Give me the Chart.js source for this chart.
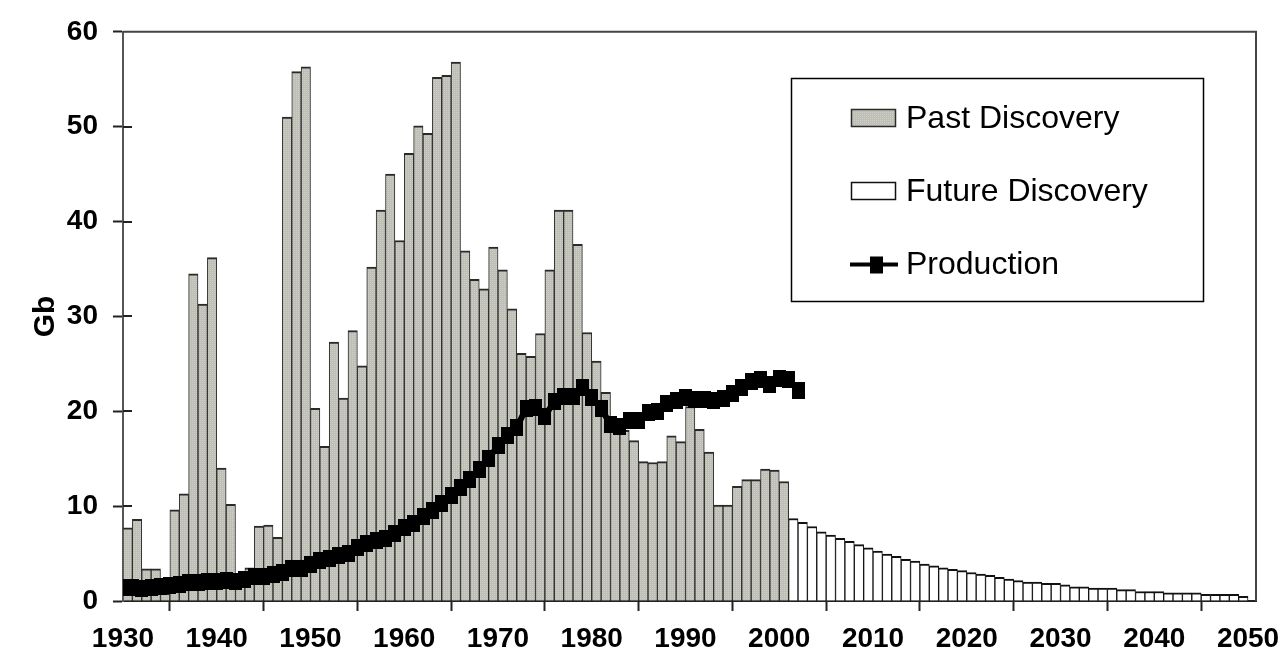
<!DOCTYPE html>
<html>
<head>
<meta charset="utf-8">
<title>Oil discovery and production</title>
<script src="https://cdn.jsdelivr.net/npm/chart.js@4.4.1/dist/chart.umd.min.js"></script>
<style>
  html, body { margin: 0; padding: 0; background: #fff; }
  #wrap { width: 1284px; height: 656px; }
</style>
</head>
<body>
<div id="wrap"><canvas id="myChart" width="1284" height="656"></canvas></div>
<script>
// years with past discovery (one bar per year)
const pastYears = [
    1930, 1931, 1932, 1933, 1934, 1935, 1936, 1937, 1938, 1939,
    1940, 1941, 1942, 1943, 1944, 1945, 1946, 1947, 1948, 1949,
    1950, 1951, 1952, 1953, 1954, 1955, 1956, 1957, 1958, 1959,
    1960, 1961, 1962, 1963, 1964, 1965, 1966, 1967, 1968, 1969,
    1970, 1971, 1972, 1973, 1974, 1975, 1976, 1977, 1978, 1979,
    1980, 1981, 1982, 1983, 1984, 1985, 1986, 1987, 1988, 1989,
    1990, 1991, 1992, 1993, 1994, 1995, 1996, 1997, 1998, 1999,
    2000
];
const pastDiscovery = [
    7.7, 8.6, 3.4, 3.4, 0.8, 9.6, 11.3, 34.5, 31.3, 36.2,
    14.0, 10.2, 2.0, 3.5, 7.9, 8.0, 6.7, 51.0, 55.8, 56.3,
    20.3, 16.3, 27.3, 21.4, 28.5, 24.8, 35.2, 41.2, 45.0, 38.0,
    47.2, 50.1, 49.3, 55.2, 55.4, 56.8, 36.9, 33.9, 32.9, 37.3,
    34.9, 30.8, 26.1, 25.8, 28.2, 34.9, 41.2, 41.2, 37.6, 28.3,
    25.3, 22.0, 19.0, 18.0, 16.9, 14.7, 14.6, 14.7, 17.4, 16.8,
    20.5, 18.1, 15.7, 10.1, 10.1, 12.1, 12.8, 12.8, 13.9, 13.8,
    12.6
];

const futureYears = [
    2001, 2002, 2003, 2004, 2005, 2006, 2007, 2008, 2009, 2010,
    2011, 2012, 2013, 2014, 2015, 2016, 2017, 2018, 2019, 2020,
    2021, 2022, 2023, 2024, 2025, 2026, 2027, 2028, 2029, 2030,
    2031, 2032, 2033, 2034, 2035, 2036, 2037, 2038, 2039, 2040,
    2041, 2042, 2043, 2044, 2045, 2046, 2047, 2048, 2049
];
const futureDiscovery = [
    8.7, 8.3, 7.85, 7.3, 6.95, 6.6, 6.3, 5.95, 5.6, 5.25,
    4.95, 4.7, 4.4, 4.2, 3.9, 3.7, 3.5, 3.35, 3.2, 3.0,
    2.85, 2.7, 2.5, 2.3, 2.15, 2.0, 2.0, 1.85, 1.85, 1.7,
    1.5, 1.5, 1.35, 1.35, 1.35, 1.2, 1.2, 1.0, 1.0, 1.0,
    0.85, 0.85, 0.85, 0.85, 0.7, 0.7, 0.7, 0.7, 0.5
];

const productionYears = [
    1930, 1931, 1932, 1933, 1934, 1935, 1936, 1937, 1938, 1939,
    1940, 1941, 1942, 1943, 1944, 1945, 1946, 1947, 1948, 1949,
    1950, 1951, 1952, 1953, 1954, 1955, 1956, 1957, 1958, 1959,
    1960, 1961, 1962, 1963, 1964, 1965, 1966, 1967, 1968, 1969,
    1970, 1971, 1972, 1973, 1974, 1975, 1976, 1977, 1978, 1979,
    1980, 1981, 1982, 1983, 1984, 1985, 1986, 1987, 1988, 1989,
    1990, 1991, 1992, 1993, 1994, 1995, 1996, 1997, 1998, 1999,
    2000, 2001, 2002
];
const production = [
    1.4, 1.4, 1.3, 1.4, 1.5, 1.6, 1.7, 2.0, 2.0, 2.1,
    2.1, 2.2, 2.1, 2.3, 2.6, 2.6, 2.8, 3.0, 3.4, 3.4,
    3.8, 4.3, 4.5, 4.8, 5.0, 5.6, 6.1, 6.4, 6.6, 7.1,
    7.7, 8.2, 8.9, 9.5, 10.3, 11.1, 12.0, 12.8, 13.9, 15.0,
    16.4, 17.4, 18.3, 20.3, 20.4, 19.5, 21.0, 21.6, 21.6, 22.5,
    21.5, 20.3, 18.6, 18.4, 19.0, 19.0, 19.9, 20.0, 20.8, 21.1,
    21.4, 21.2, 21.2, 21.1, 21.3, 21.9, 22.5, 23.1, 23.3, 22.8,
    23.5, 23.3, 22.2
];

const xTickLabels = [1930, 1940, 1950, 1960, 1970, 1980, 1990, 2000, 2010, 2020, 2030, 2040, 2050];
const yTickLabels = [0, 10, 20, 30, 40, 50, 60];

const FONT = "'Liberation Sans', Arial, sans-serif";

const canvas = document.getElementById('myChart');
const ctx = canvas.getContext('2d');

// grey stippled fill like the old spreadsheet bars
function makeStipple() {
    const c = document.createElement('canvas');
    c.width = 4;
    c.height = 4;
    const g = c.getContext('2d');
    g.fillStyle = '#bfbfb4';
    g.fillRect(0, 0, 4, 4);
    g.fillStyle = '#cacae2';
    g.fillRect(0, 0, 1, 1);
    g.fillRect(2, 2, 1, 1);
    g.fillStyle = '#d2d2bc';
    g.fillRect(2, 0, 1, 1);
    g.fillRect(0, 2, 1, 1);
    return ctx.createPattern(c, 'repeat');
}
const stipple = makeStipple();

// production marker: a slightly tall black block
const marker = document.createElement('canvas');
marker.width = 13;
marker.height = 17;
marker.getContext('2d').fillRect(0, 0, 13, 17);

// bars sit between year ticks, so centre them half a year right
const toBars = (years, values) => years.map((yr, i) => ({ x: yr + 0.5, y: values[i] }));

const frameAndLegend = {
    id: 'frameAndLegend',
    afterDraw(chart) {
        const c = chart.ctx;
        const area = chart.chartArea;
        const yScale = chart.scales.y;

        c.save();
        // top and right border of the plot
        c.strokeStyle = '#444';
        c.lineWidth = 2;
        c.beginPath();
        c.moveTo(area.left, area.top);
        c.lineTo(area.right, area.top);
        c.lineTo(area.right, area.bottom);
        c.stroke();

        // y tick marks also poke inside the plot
        c.strokeStyle = '#222';
        c.lineWidth = 2;
        yTickLabels.slice(1, -1).forEach(v => {
            const py = Math.round(yScale.getPixelForValue(v));
            c.beginPath();
            c.moveTo(area.left, py);
            c.lineTo(area.left + 9, py);
            c.stroke();
        });

        // legend box
        const box = { x: 791.5, y: 78.5, w: 412, h: 223 };
        c.fillStyle = '#fff';
        c.fillRect(box.x, box.y, box.w, box.h);
        c.strokeStyle = '#000';
        c.lineWidth = 1.5;
        c.strokeRect(box.x, box.y, box.w, box.h);

        const rows = [118, 191, 264.5];
        const sx = 851, sw = 45, sh = 18, tx = 906;
        c.font = '32px ' + FONT;
        c.textBaseline = 'middle';
        c.textAlign = 'left';

        chart.data.datasets.forEach((ds, i) => {
            const cy = rows[i];
            if (ds.type === 'line') {
                c.strokeStyle = '#000';
                c.lineWidth = 4;
                c.beginPath();
                c.moveTo(sx - 1, cy);
                c.lineTo(sx + sw + 2, cy);
                c.stroke();
                c.fillStyle = '#000';
                c.fillRect(sx + 19, cy - 8, 13, 17);
            } else {
                c.fillStyle = ds.backgroundColor;
                c.fillRect(sx, cy - sh / 2, sw, sh);
                c.strokeStyle = ds.borderColor;
                c.lineWidth = 1.5;
                c.strokeRect(sx + 0.5, cy - sh / 2 + 0.5, sw - 1, sh - 1);
            }
            c.fillStyle = '#000';
            c.fillText(ds.label, tx, cy + 1);
        });
        c.restore();
    }
};

const chart = new Chart(ctx, {
    data: {
        datasets: [
            {
                type: 'bar',
                label: 'Past Discovery',
                data: toBars(pastYears, pastDiscovery),
                backgroundColor: stipple,
                borderColor: '#2a2a2a',
                borderWidth: { top: 2, left: 1, right: 1, bottom: 0 },
                barPercentage: 1,
                categoryPercentage: 1,
                grouped: false,
                order: 2
            },
            {
                type: 'bar',
                label: 'Future Discovery',
                data: toBars(futureYears, futureDiscovery),
                backgroundColor: '#ffffff',
                borderColor: '#111',
                borderWidth: { top: 2, left: 1, right: 1, bottom: 0 },
                barPercentage: 1,
                categoryPercentage: 1,
                grouped: false,
                order: 2
            },
            {
                type: 'line',
                label: 'Production',
                data: productionYears.map((yr, i) => ({ x: yr, y: production[i] })),
                borderColor: '#000',
                backgroundColor: '#000',
                borderWidth: 6,
                tension: 0,
                pointStyle: marker,
                pointRadius: 6,
                pointHoverRadius: 6,
                order: 1
            }
        ]
    },
    options: {
        responsive: false,
        animation: false,
        events: [],
        layout: { padding: { top: 30, right: 28, left: 0, bottom: 0 } },
        plugins: {
            legend: { display: false },
            tooltip: { enabled: false }
        },
        scales: {
            x: {
                type: 'linear',
                min: 1930,
                max: 2050.85,
                offset: false,
                grid: {
                    drawOnChartArea: false,
                    drawTicks: true,
                    tickLength: 10,
                    tickWidth: 2,
                    tickColor: '#222'
                },
                border: { display: true, color: '#222', width: 2 },
                ticks: {
                    color: '#000',
                    font: { family: FONT, size: 28, weight: 'bold' },
                    padding: 11,
                    maxRotation: 0,
                    autoSkip: false,
                    callback: v => String(v)
                },
                afterBuildTicks: s => { s.ticks = xTickLabels.map(v => ({ value: v })); },
                afterFit: s => {
                    s.height = 55;
                    // the last label may hang into the right margin
                    s.paddingLeft = 0;
                    s.paddingRight = 0;
                }
            },
            y: {
                min: 0,
                max: 60,
                grid: {
                    drawOnChartArea: false,
                    drawTicks: true,
                    tickLength: 10,
                    tickWidth: 2,
                    tickColor: '#222'
                },
                border: { display: true, color: '#555', width: 2 },
                ticks: {
                    color: '#000',
                    font: { family: FONT, size: 28, weight: 'bold' },
                    padding: 15
                },
                afterBuildTicks: s => { s.ticks = yTickLabels.map(v => ({ value: v })); },
                afterFit: s => { s.width = 123; },
                title: {
                    display: true,
                    text: 'Gb',
                    color: '#000',
                    font: { family: FONT, size: 30, weight: 'bold' },
                    padding: { top: 28, bottom: 0 }
                }
            }
        }
    },
    plugins: [frameAndLegend]
});
</script>
</body>
</html>
